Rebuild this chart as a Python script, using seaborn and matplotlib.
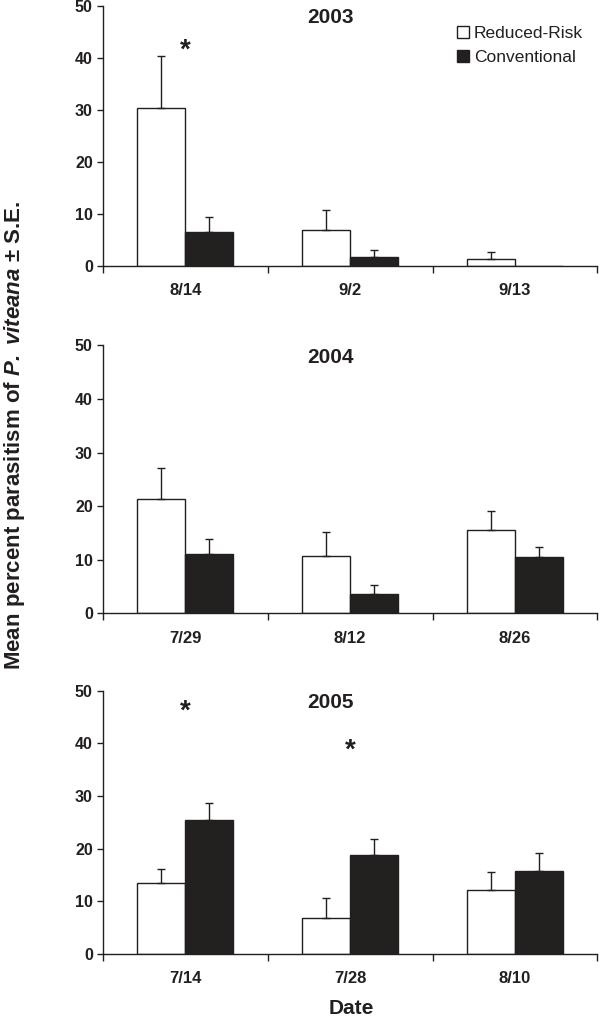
import numpy as np
import pandas as pd
import seaborn as sns
import matplotlib.pyplot as plt
from matplotlib.transforms import blended_transform_factory

# ~~~ Data ~~~
treatments = ["Reduced-Risk", "Conventional"]

years = ["2003", "2004", "2005"]
dates = {
    "2003": ["8/14", "9/2", "9/13"],
    "2004": ["7/29", "8/12", "8/26"],
    "2005": ["7/14", "7/28", "8/10"],
}
rr_mean = {
    "2003": [30.4, 7.0, 1.3],
    "2004": [21.4, 10.8, 15.5],
    "2005": [13.4, 6.9, 12.2],
}
rr_se = {
    "2003": [10.0, 3.8, 1.45],
    "2004": [5.8, 4.4, 3.6],
    "2005": [2.8, 3.7, 3.3],
}
conv_mean = {
    "2003": [6.6, 1.7, 0.0],
    "2004": [11.0, 3.6, 10.5],
    "2005": [25.5, 18.7, 15.8],
}
conv_se = {
    "2003": [2.8, 1.4, 0.0],
    "2004": [2.9, 1.7, 1.9],
    "2005": [3.2, 3.2, 3.4],
}
# significant dates (index within year) and asterisk height
sig_marks = {
    "2003": [(0, 41.5)],
    "2004": [],
    "2005": [(0, 46.0), (1, 38.6)],
}

# ~~~ Style ~~~
sns.set_style("ticks")
plt.rcParams["font.family"] = ["Liberation Sans", "DejaVu Sans"]
plt.rcParams["mathtext.fontset"] = "custom"
plt.rcParams["mathtext.bfit"] = "Liberation Sans:italic:bold"
plt.rcParams["mathtext.it"] = "Liberation Sans:italic"
plt.rcParams["mathtext.rm"] = "Liberation Sans"

ink = "#231f20"
palette = {"Reduced-Risk": "white", "Conventional": ink}

fig = plt.figure(figsize=(6.01, 10.19), dpi=100)
panel_boxes = [
    [0.171, 0.739, 0.823, 0.255],
    [0.171, 0.398, 0.823, 0.263],
    [0.171, 0.064, 0.823, 0.258],
]

for i, year in enumerate(years):
    ax = fig.add_axes(panel_boxes[i])
    df = pd.DataFrame({
        "date": dates[year] * 2,
        "mean": rr_mean[year] + conv_mean[year],
        "se": rr_se[year] + conv_se[year],
        "treatment": [treatments[0]] * 3 + [treatments[1]] * 3,
    })
    sns.barplot(
        data=df, x="date", y="mean", hue="treatment", hue_order=treatments,
        order=dates[year], palette=palette, edgecolor=ink, linewidth=1.0,
        width=0.58, errorbar=None, ax=ax, legend=(i == 0),
    )

    # upper-only error bars at bar centres
    for t, cont in zip(treatments, ax.containers):
        sub = df[df["treatment"] == t].set_index("date").loc[dates[year]]
        xs = [p.get_x() + p.get_width() / 2 for p in cont.patches]
        ys = sub["mean"].values
        err = sub["se"].values
        keep = err > 0
        ax.errorbar(
            np.array(xs)[keep], ys[keep],
            yerr=[np.zeros(keep.sum()), err[keep]],
            fmt="none", ecolor=ink, elinewidth=1.0, capsize=3.2,
            capthick=1.0, zorder=1,
        )

    ax.set_ylim(0, 50)
    ax.set_xlim(-0.5, 2.5)
    ax.set_yticks(range(0, 51, 10))
    ax.set_xlabel("")
    ax.set_ylabel("")
    ax.set_xticks([-0.5, 0.5, 1.5, 2.5], minor=True)
    ax.tick_params(axis="x", which="major", length=0, pad=12.5, labelsize=12)
    ax.tick_params(axis="x", which="minor", length=5, width=1.0, color=ink)
    ax.tick_params(axis="y", length=4.2, width=1.0, color=ink, labelsize=11.5, pad=3)
    for lab in ax.get_xticklabels() + ax.get_yticklabels():
        lab.set_fontweight("bold")
        lab.set_color(ink)
    sns.despine(ax=ax)
    for s in ["left", "bottom"]:
        ax.spines[s].set_color(ink)
        ax.spines[s].set_linewidth(1.0)

    trans = blended_transform_factory(ax.transAxes, ax.transData)
    ax.text(0.46, 47.8, year, transform=trans, ha="center", va="center",
            fontsize=15, fontweight="bold", color=ink)

    for idx, yv in sig_marks[year]:
        ax.text(idx, yv, "*", ha="center", va="center", fontsize=20,
                fontweight="bold", color=ink)

    if i == 0:
        leg = ax.legend(
            loc="upper right", bbox_to_anchor=(0.985, 0.95), frameon=False,
            fontsize=12.5, handlelength=0.7, handleheight=0.7,
            handletextpad=0.3, labelspacing=0.52, borderaxespad=0.0,
        )
        for h in leg.legend_handles:
            h.set_edgecolor(ink)
            h.set_linewidth(1.0)
        for txt in leg.get_texts():
            txt.set_color(ink)

fig.text(0.024, 0.573, r"Mean percent parasitism of $\mathbfit{P.\ viteana}$ ± S.E.",
         rotation=90, ha="center", va="center", fontsize=16,
         fontweight="bold", color=ink)
fig.text(0.585, 0.001, "Date", ha="center", va="bottom", fontsize=15,
         fontweight="bold", color=ink)

fig.savefig("out.png", dpi=100, facecolor="white")
